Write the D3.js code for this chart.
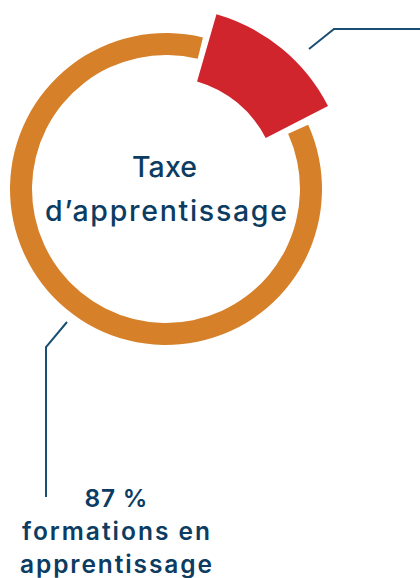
<!DOCTYPE html>
<html>
<head>
<meta charset="utf-8">
<script src="https://cdn.jsdelivr.net/npm/d3@7"></script>
<style>
  html, body { margin: 0; padding: 0; background: #fff; }
  svg { display: block; }
</style>
</head>
<body>
<svg id="chart" width="420" height="578"></svg>
<script>
const categories = ["autres", "formations en apprentissage"];
const values = [13, 87];
const colors = ["#d0252d", "#d6802a"];
const centerLines = ["Taxe", "d\u2019apprentissage"];
const labelLines = ["87 %", "formations en", "apprentissage"];

const svg = d3.select("#chart");
const cx = 166, cy = 189;
const navy = "#0c3c62";
const lineCol = "#1a4f74";
const deg = Math.PI / 180;

const pie = d3.pie().sort(null).value(d => d)
  .startAngle(16.1 * deg)
  .endAngle(16.1 * deg + 2 * Math.PI);
const arcs = pie(values);

const g = svg.append("g").attr("transform", `translate(${cx},${cy})`);

const arcRed = d3.arc().innerRadius(112).outerRadius(182);
const arcOrange = d3.arc().innerRadius(134).outerRadius(156)
  .startAngle(d => d.startAngle + 2.8 * deg)
  .endAngle(d => d.endAngle - 2.4 * deg);

g.selectAll("path.slice")
  .data(arcs)
  .join("path")
  .attr("class", "slice")
  .attr("d", (d, i) => i === 0 ? arcRed(d) : arcOrange(d))
  .attr("fill", (d, i) => colors[i]);

function fit(tspan, target) {
  const n = tspan.text().length;
  const w = tspan.node().getComputedTextLength();
  const ls = (target - w) / Math.max(1, n - 1);
  tspan.attr("letter-spacing", ls.toFixed(2));
  tspan.attr("dx", (ls / 2).toFixed(2));
}

// center text
const ct = g.append("text")
  .attr("text-anchor", "middle")
  .attr("font-family", "Inter, 'Noto Sans', sans-serif")
  .attr("font-weight", 550)
  .attr("font-size", 28.5)
  .attr("fill", navy);
const c1 = ct.append("tspan").attr("x", -1.5).attr("y", -12.5).text(centerLines[0]);
const c2 = ct.append("tspan").attr("x", 0).attr("y", 31.5).text(centerLines[1]);
fit(c1, 65);
fit(c2, 242);

// leader lines
svg.append("polyline")
  .attr("points", "309,49 334,29 425,29")
  .attr("fill", "none").attr("stroke", lineCol).attr("stroke-width", 2);
svg.append("polyline")
  .attr("points", "67,322 46,347 46,497")
  .attr("fill", "none").attr("stroke", lineCol).attr("stroke-width", 2);

// bottom label
const lt = svg.append("text")
  .attr("text-anchor", "middle")
  .attr("font-family", "Inter, 'Noto Sans', sans-serif")
  .attr("font-weight", 600)
  .attr("font-size", 24.5)
  .attr("fill", navy);
const targets = [63, 188, 192];
labelLines.forEach((t, i) => {
  const ts = lt.append("tspan").attr("x", 116).attr("y", 506.5 + i * 33.2).text(t);
  fit(ts, targets[i]);
});
</script>
</body>
</html>
